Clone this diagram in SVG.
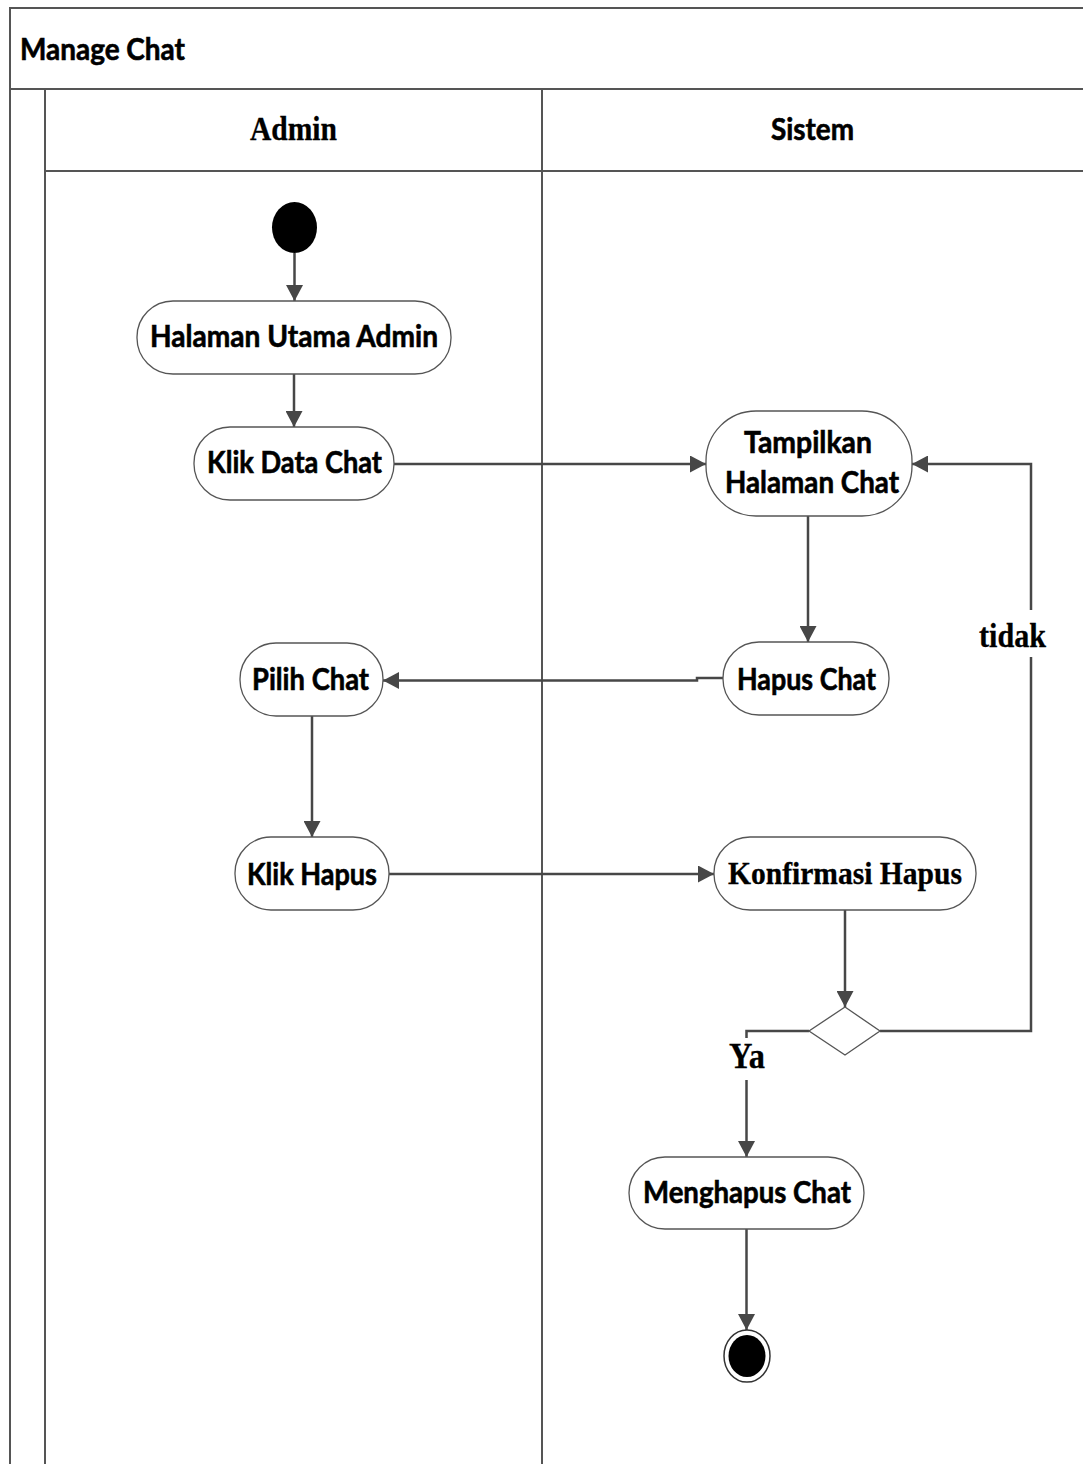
<svg xmlns="http://www.w3.org/2000/svg" width="1083" height="1464" viewBox="0 0 1083 1464">
<style>
.frame{fill:none;stroke:#555;stroke-width:2}
.node{fill:#fff;stroke:#555;stroke-width:1.3}
.sans{font-family:Lato,"Open Sans","Liberation Sans",sans-serif;font-weight:bold;font-size:30px;fill:#000;stroke:#000;stroke-width:0.6}
.serif{font-family:"Liberation Serif","DejaVu Serif",serif;font-weight:bold;font-size:32px;fill:#000;stroke:#000;stroke-width:0.3}
.edge{fill:none;stroke:#474747;stroke-width:2.5}
</style>
<defs>
<marker id="arr" viewBox="0 0 16 17" refX="16" refY="8.5" markerWidth="16" markerHeight="17" markerUnits="userSpaceOnUse" orient="auto">
<path d="M0,0 L16,8.5 L0,17 z" fill="#474747"/>
</marker>
</defs>
<rect width="1083" height="1464" fill="#fff"/>
<g id="frame">
<path class="frame" d="M10,1470 V8 H1090"/>
<path class="frame" d="M10,89 H1090"/>
<path class="frame" d="M45,89 V1470"/>
<path class="frame" d="M45,171 H1090"/>
<path class="frame" d="M542,89 V1470"/>
<text class="sans" x="20" y="60" textLength="165" lengthAdjust="spacingAndGlyphs">Manage Chat</text>
<text class="serif" x="293.5" y="140" text-anchor="middle" textLength="87" lengthAdjust="spacingAndGlyphs" style="font-size:33px">Admin</text>
<text class="sans" x="812.5" y="140" text-anchor="middle" textLength="83" lengthAdjust="spacingAndGlyphs">Sistem</text>
</g>
<g id="connectors">
<path class="edge" d="M294.5,253 V301" marker-end="url(#arr)"/>
<path class="edge" d="M294,374 V427" marker-end="url(#arr)"/>
<path class="edge" d="M394,464 H706" marker-end="url(#arr)"/>
<path class="edge" d="M808,516 V642" marker-end="url(#arr)"/>
<path class="edge" d="M723,678 H697 V680.5 H383" marker-end="url(#arr)"/>
<path class="edge" d="M312,716 V837" marker-end="url(#arr)"/>
<path class="edge" d="M389,874 H714" marker-end="url(#arr)"/>
<path class="edge" d="M845,910 V1007" marker-end="url(#arr)"/>
<path class="edge" d="M880,1031 H1031 V657"/>
<path class="edge" d="M1031,610 V464 H912" marker-end="url(#arr)"/>
<path class="edge" d="M809,1031 H746.5 V1038"/>
<path class="edge" d="M746.5,1080 V1157" marker-end="url(#arr)"/>
<path class="edge" d="M746.5,1229 V1330" marker-end="url(#arr)"/>
<text class="serif" x="1012.5" y="647" text-anchor="middle" textLength="67" lengthAdjust="spacingAndGlyphs" style="font-size:33px">tidak</text>
<text class="serif" x="747" y="1068" text-anchor="middle" textLength="36" lengthAdjust="spacingAndGlyphs" style="font-size:35px">Ya</text>
</g>
<g id="start">
<ellipse cx="294.5" cy="227.5" rx="22.5" ry="25.5" fill="#000"/>
</g>
<g id="halaman-utama-admin">
<rect class="node" x="137" y="301" width="314" height="73" rx="36" ry="36"/>
<text class="sans" x="294" y="347" text-anchor="middle" textLength="288" lengthAdjust="spacingAndGlyphs">Halaman Utama Admin</text>
</g>
<g id="klik-data-chat">
<rect class="node" x="194" y="427" width="200" height="73" rx="36" ry="36"/>
<text class="sans" x="294.5" y="473" text-anchor="middle" textLength="175" lengthAdjust="spacingAndGlyphs">Klik Data Chat</text>
</g>
<g id="tampilkan-halaman-chat">
<rect class="node" x="706" y="411" width="206" height="105" rx="50" ry="50"/>
<text class="sans" x="808" y="453" text-anchor="middle" textLength="128" lengthAdjust="spacingAndGlyphs">Tampilkan</text>
<text class="sans" x="812" y="493" text-anchor="middle" textLength="174" lengthAdjust="spacingAndGlyphs">Halaman Chat</text>
</g>
<g id="hapus-chat">
<rect class="node" x="723" y="642" width="166" height="73" rx="36" ry="36"/>
<text class="sans" x="806.5" y="690" text-anchor="middle" textLength="139" lengthAdjust="spacingAndGlyphs">Hapus Chat</text>
</g>
<g id="pilih-chat">
<rect class="node" x="240" y="643" width="143" height="73" rx="36" ry="36"/>
<text class="sans" x="310.5" y="690" text-anchor="middle" textLength="117" lengthAdjust="spacingAndGlyphs">Pilih Chat</text>
</g>
<g id="klik-hapus">
<rect class="node" x="235" y="837" width="154" height="73" rx="36" ry="36"/>
<text class="sans" x="312" y="885" text-anchor="middle" textLength="130" lengthAdjust="spacingAndGlyphs">Klik Hapus</text>
</g>
<g id="konfirmasi-hapus">
<rect class="node" x="714" y="837" width="262" height="73" rx="36" ry="36"/>
<text class="serif" x="845" y="884" text-anchor="middle" textLength="234" lengthAdjust="spacingAndGlyphs" style="font-size:31px">Konfirmasi Hapus</text>
</g>
<g id="decision">
<polygon class="node" points="845,1007 880,1031 845,1055 809,1031"/>
</g>
<g id="menghapus-chat">
<rect class="node" x="629" y="1157" width="235" height="72" rx="36" ry="36"/>
<text class="sans" x="747" y="1203" text-anchor="middle" textLength="208" lengthAdjust="spacingAndGlyphs">Menghapus Chat</text>
</g>
<g id="end">
<ellipse cx="747" cy="1356" rx="23" ry="26" fill="#fff" stroke="#333" stroke-width="1.5"/>
<ellipse cx="747" cy="1356" rx="18.5" ry="21" fill="#000"/>
</g>
</svg>
